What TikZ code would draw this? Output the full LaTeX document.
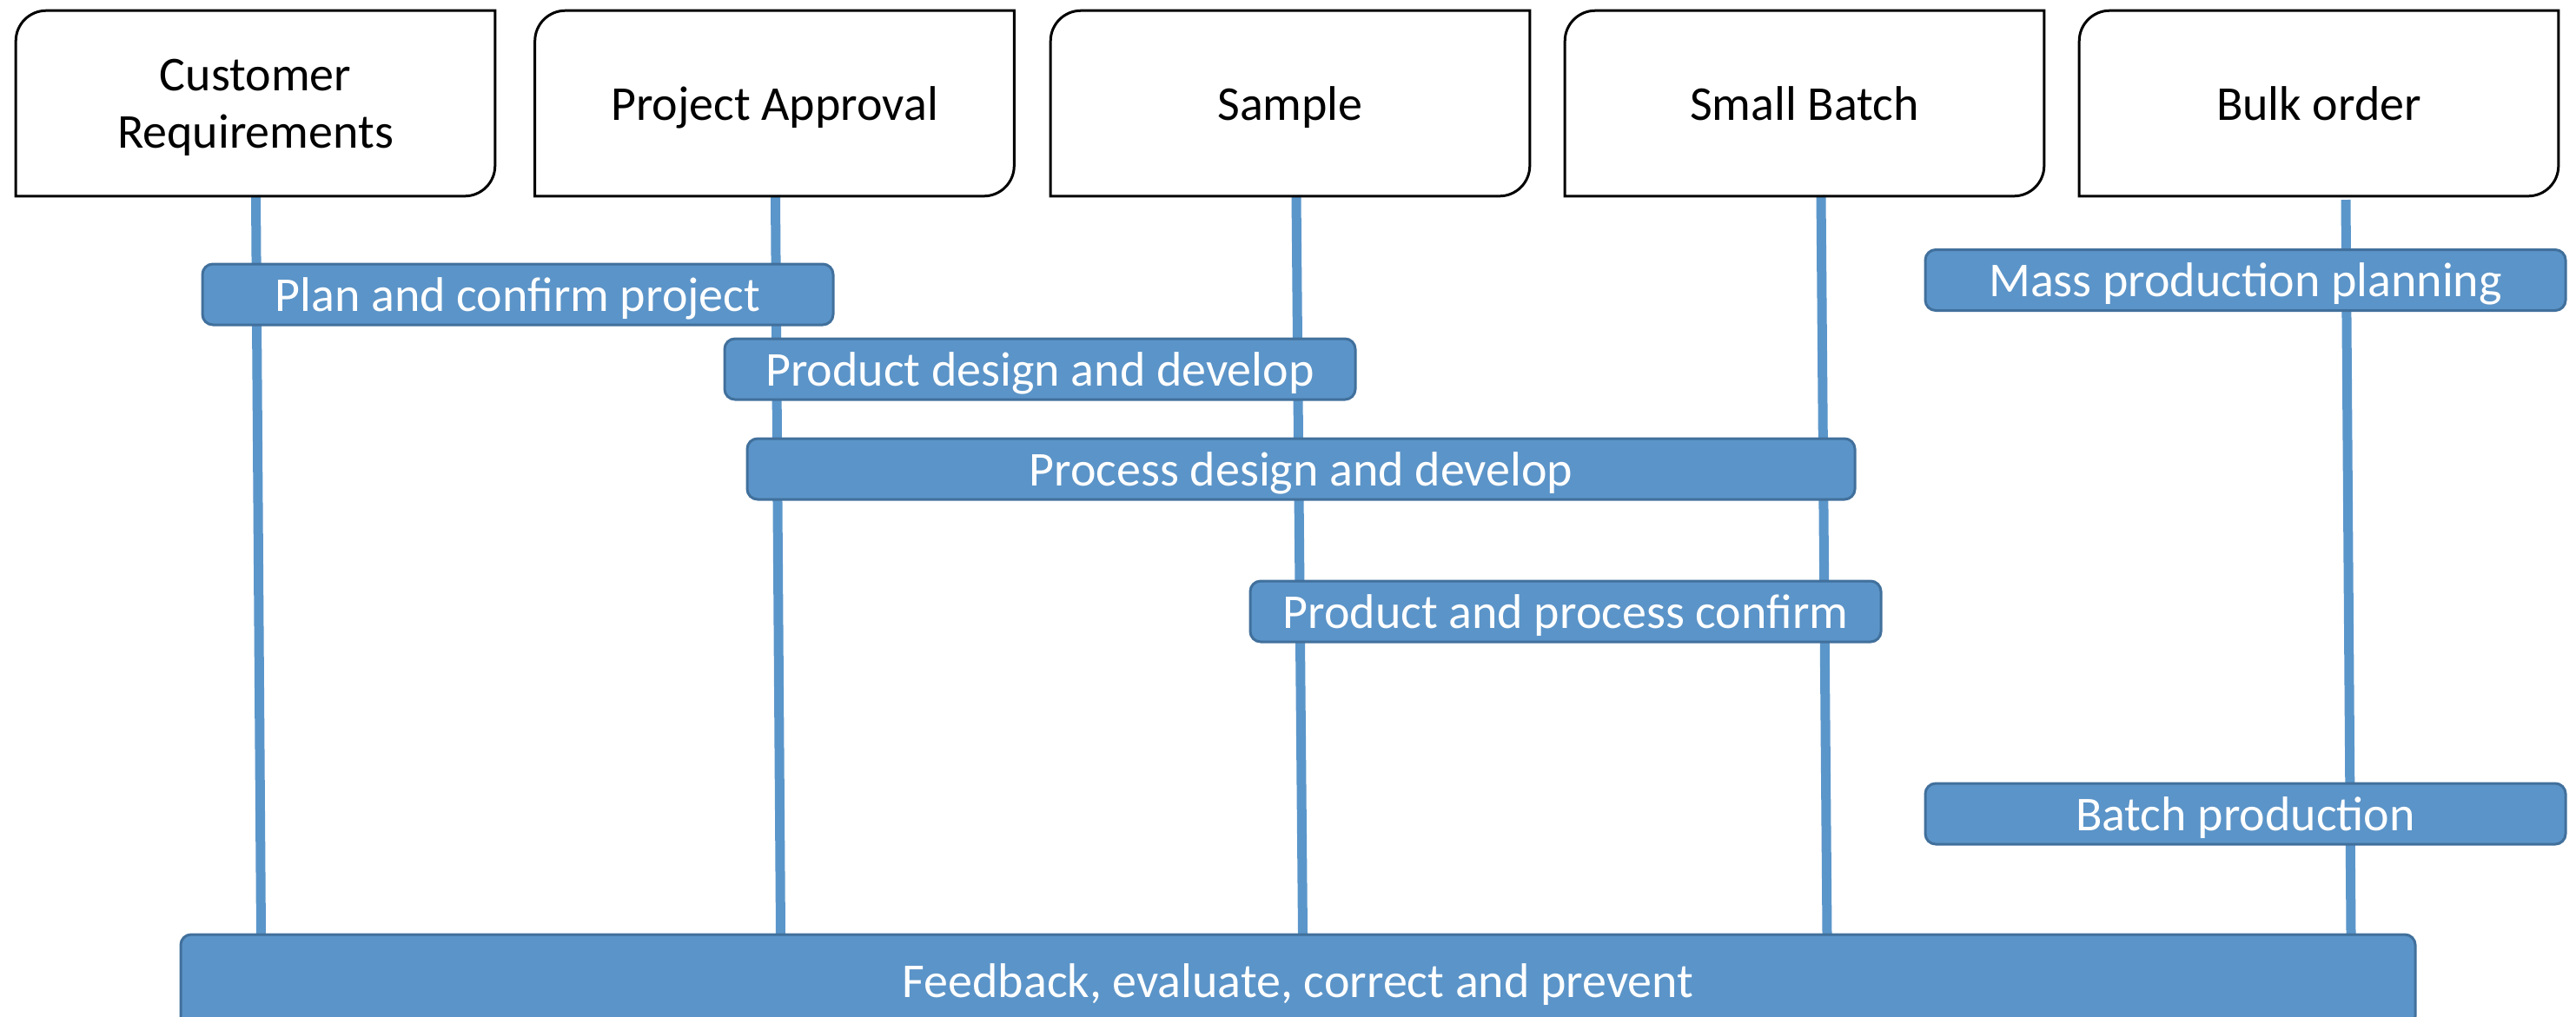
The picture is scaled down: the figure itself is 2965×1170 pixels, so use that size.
\documentclass[tikz,border=0pt]{standalone}
\usepackage{fontspec}
\setmainfont{Carlito}
\usetikzlibrary{backgrounds}
\definecolor{barblue}{HTML}{5B94C8}
\definecolor{bardark}{HTML}{41709C}
\definecolor{lineblue}{HTML}{5B96CA}
\begin{document}
\begin{tikzpicture}[x=0.25pt,y=-0.25pt,
  topbox/.style={minimum width=137.5pt, minimum height=53pt, inner sep=0pt, align=center, text depth=0pt, font=\fontsize{14}{16.5}\selectfont},
  boxline/.style={draw=black, line width=0.75pt},
  bar/.style={fill=barblue, draw=bardark, line width=0.75pt, rounded corners=3pt, inner sep=0pt, minimum height=17.5pt, text depth=0pt, text=white, font=\fontsize{14}{16.5}\selectfont},
  vline/.style={draw=lineblue, line width=2.75pt}]
\useasboundingbox (0,0) rectangle (2965,1170);
% top boxes
\node[topbox] (b1) at (294,119) {Customer\\Requirements};
\node[topbox] (b2) at (891.5,119) {Project Approval};
\node[topbox] (b3) at (1485,119) {Sample};
\node[topbox] (b4) at (2077,119) {Small Batch};
\node[topbox] (b5) at (2669,119) {Bulk order};
\foreach \n in {b1,b2,b3,b4,b5}
  \draw[boxline] (\n.south west) -- ([yshift=-8.75pt]\n.north west)
    arc[start angle=180,end angle=90,radius=8.75pt] -- (\n.north east)
    -- ([yshift=8.75pt]\n.south east)
    arc[start angle=0,end angle=-90,radius=8.75pt] -- cycle;
% bars
\node[bar, minimum width=181.5pt] (plan) at (596,339) {Plan and confirm project};
\node[bar, minimum width=181.5pt] (pdes) at (1197,425) {Product design and develop};
\node[bar, minimum width=318.75pt] (proc) at (1497.5,540) {Process design and develop};
\node[bar, minimum width=181.5pt] (conf) at (1802,704) {Product and process confirm};
\node[bar, minimum width=184.25pt] (mass) at (2584.5,322.5) {Mass production planning};
\node[bar, minimum width=184.25pt] (batch) at (2584.5,937) {Batch production};
\node[bar, minimum width=643pt, minimum height=26.5pt] (fb) at (1494,1129) {Feedback, evaluate, correct and prevent};
% line end points
\coordinate (t1) at (294.5,225);  \coordinate (f1) at (300.5,1076);
\coordinate (t2) at (892.5,225);  \coordinate (f2) at (898.5,1076);
\coordinate (t3) at (1492,225);   \coordinate (f3) at (1499.5,1076);
\coordinate (t4) at (2096,225);   \coordinate (f4) at (2103,1076);
\coordinate (t5) at (2700,230);   \coordinate (f5) at (2706,1076);
\begin{pgfonlayer}{background}
\foreach \i in {1,...,5} \draw[vline] (t\i) -- (f\i);
\end{pgfonlayer}
\end{tikzpicture}
\end{document}
